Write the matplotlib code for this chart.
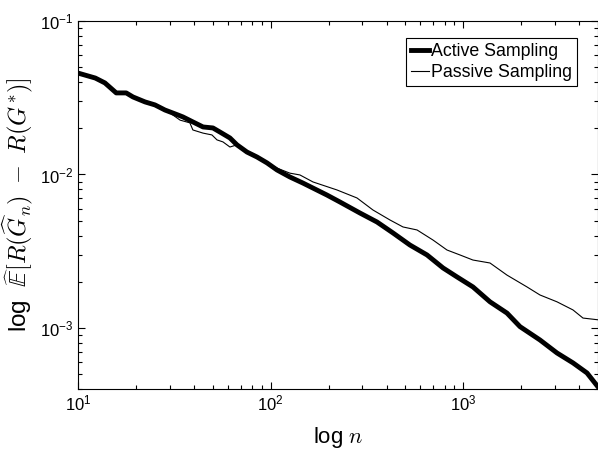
import matplotlib
matplotlib.use('Agg')
import matplotlib.pyplot as plt
import numpy as np

plt.rcParams['font.family'] = ['Liberation Sans', 'DejaVu Sans']
plt.rcParams['mathtext.fontset'] = 'cm'

# ── Values (log-log) ─────────────────────────────────────────────────────────
n_active = [10, 12.3, 13.8, 15.8, 17.8, 19.3, 22.3, 25.1, 28.3, 33.1, 35.1,
            39.5, 44.6, 50.2, 54.6, 61.5, 66.9, 75.4, 85.0, 95.8, 108, 126,
            147, 196, 229, 291, 357, 432, 529, 649, 786, 929, 1124, 1378,
            1688, 1972, 2504, 3069, 3717, 4394, 5012]
err_active = [0.0458, 0.0425, 0.0395, 0.0340, 0.0340, 0.0320, 0.0297, 0.0284,
              0.0263, 0.0244, 0.0237, 0.0220, 0.0204, 0.0201, 0.0189, 0.0173,
              0.0156, 0.0140, 0.0130, 0.0119, 0.0107, 0.00963, 0.00880,
              0.00735, 0.00662, 0.00561, 0.00490, 0.00416, 0.00347, 0.00299,
              0.00246, 0.00215, 0.00185, 0.00148, 0.00125, 0.00102, 0.000835,
              0.000687, 0.000592, 0.000509, 0.000413]

n_passive = [10, 12.3, 13.8, 15.8, 17.8, 19.3, 22.3, 25.1, 28.3, 30.0, 33.9,
             38.1, 39.5, 44.6, 49.6, 52.7, 56.6, 61.5, 66.9, 75.4, 85.0, 95.8,
             108, 126, 142, 166, 221, 281, 340, 417, 487, 576, 697, 824, 962,
             1124, 1378, 1688, 2145, 2504, 3069, 3717, 4188, 5012]
err_passive = [0.0465, 0.0425, 0.0395, 0.0345, 0.0335, 0.0320, 0.0297, 0.0280,
               0.0263, 0.0252, 0.0226, 0.0217, 0.0195, 0.0186, 0.0181, 0.0168,
               0.0163, 0.0151, 0.0156, 0.0142, 0.0132, 0.0119, 0.0110, 0.0102,
               0.00993, 0.00894, 0.00793, 0.00703, 0.00587, 0.00505, 0.00455,
               0.00435, 0.00374, 0.00322, 0.00299, 0.00277, 0.00265, 0.00221,
               0.00185, 0.00164, 0.00148, 0.00131, 0.00116, 0.00113]

fig = plt.figure(figsize=(5.98, 4.49), dpi=100)
ax = fig.add_axes([0.1304, 0.1336, 0.8696, 0.8196])

ax.loglog(n_active, err_active, color='black', linewidth=3.5,
          label='Active Sampling')
ax.loglog(n_passive, err_passive, color='black', linewidth=0.8,
          label='Passive Sampling')

ax.set_xlim(10, 5012)
ax.set_ylim(4e-4, 1e-1)

ax.tick_params(which='both', direction='in', top=True, right=True,
               labelsize=12, width=0.8)
ax.tick_params(which='major', length=5)
ax.tick_params(which='minor', length=3)
for s in ax.spines.values():
    s.set_linewidth(0.8)

ax.set_xlabel(r'log $n$', fontsize=16, labelpad=8)
ax.set_ylabel(r'log  $\widehat{\mathbb{E}}[R(\widehat{G}_n)\ -\ R(G^{*})]$',
              fontsize=17.5)
ax.yaxis.set_label_coords(-0.081, 0.5)

leg = ax.legend(loc='upper right', bbox_to_anchor=(0.9596, 0.954),
                borderaxespad=0, fontsize=12.8, handlelength=1.0,
                handletextpad=0.1, labelspacing=0.2, borderpad=0.3,
                fancybox=False, framealpha=1, edgecolor='black')
leg.get_frame().set_linewidth(0.8)

fig.savefig('out.png', dpi=100)
